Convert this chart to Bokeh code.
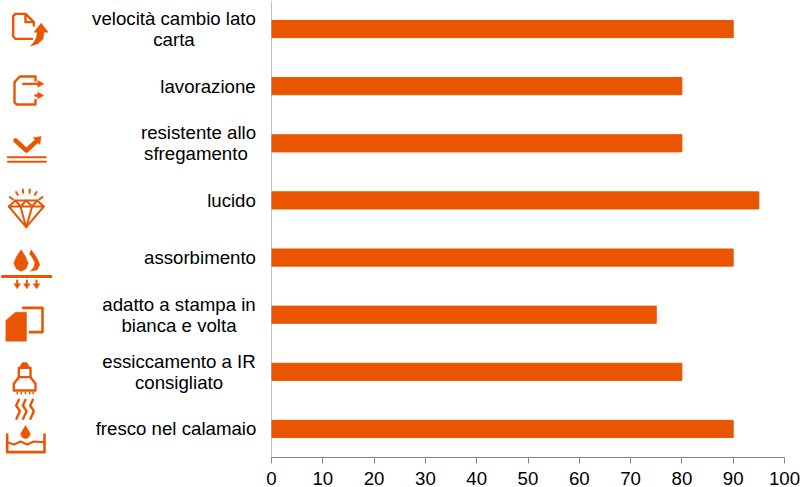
from bokeh.plotting import figure
from bokeh.layouts import row
from bokeh.models import Range1d, FactorRange, FixedTicker, Span
from bokeh.core.properties import value
from bokeh.embed import file_html
from bokeh.resources import INLINE

categories = ["velocità cambio lato\ncarta", "lavorazione", "resistente allo\nsfregamento ",
              "lucido", "assorbimento", "adatto a stampa in\nbianca e volta",
              "essiccamento a IR\nconsigliato", "fresco nel calamaio"]
values = [90, 80, 80, 95, 90, 75, 80, 90]
x_ticks = [0, 10, 20, 30, 40, 50, 60, 70, 80, 90, 100]

ORANGE = "#E95500"
GREY = "#868686"
FONT = "Liberation Sans"
# horizontal centre of each category's text block, in pixels from the left edge
label_centre = [173.5, 207.5, 198, 231, 199.5, 178.5, 178.5, 175.5]

p = figure(y_range=FactorRange(factors=categories[::-1], range_padding=0, factor_padding=0, group_padding=0, subgroup_padding=0),
           x_range=Range1d(0, 100), output_backend="svg", toolbar_location=None,
           frame_width=513, frame_height=457, min_border_left=11, min_border_right=16,
           min_border_top=0, min_border_bottom=30, outline_line_color=None,
           background_fill_color=None, border_fill_color=None)
p.hbar(y=categories, right=values, left=0, height=0.3, color=ORANGE)
p.grid.visible = False
p.xaxis.ticker = FixedTicker(ticks=x_ticks)
p.xaxis.minor_tick_line_color = None
p.xaxis.major_tick_in = 0
p.xaxis.major_tick_out = 6
p.xaxis.axis_line_color = GREY
p.xaxis.major_tick_line_color = GREY
p.xaxis.major_label_text_font = FONT
p.xaxis.major_label_text_font_size = "18.67px"
p.xaxis.major_label_text_color = "#000000"
p.xaxis.major_label_standoff = 8
p.yaxis.visible = False
p.add_layout(Span(location=0, dimension="height", line_color=GREY, line_width=1))

# left panel: category texts and the icons; y runs in category rows, top to bottom
n = len(categories)
ic = figure(x_range=Range1d(0, 260), y_range=Range1d(n, 0), output_backend="svg", toolbar_location=None,
            frame_width=260, frame_height=457, min_border_left=0, min_border_right=0,
            min_border_top=0, min_border_bottom=30,
            outline_line_color=None, background_fill_color=None, border_fill_color=None)
ic.axis.visible = False
ic.grid.visible = False

xs, ys, texts, dys = [], [], [], []
for k, (c, cx) in enumerate(zip(categories, label_centre)):
    parts = c.split("\n")
    for i, t in enumerate(parts):
        xs.append(cx)
        ys.append(k + 0.5)
        texts.append(t)
        dys.append(0 if len(parts) == 1 else (-10.5 if i == 0 else 10.5))
ic.text(x=xs, y=ys, text=texts, y_offset=dys, text_align="center", text_baseline="middle",
        text_font=value(FONT), text_font_size="18.67px", text_color="#000000")

def row_y(v):
    return v * n / 457

def line(pts, w=2.4, off=0):
    ic.line([a / 3 for a, b in pts], [row_y(b / 3 + off) for a, b in pts], line_color=ORANGE,
            line_width=w, line_join="round", line_cap="round")

def fill(pts, off=0):
    ic.patch([a / 3 for a, b in pts], [row_y(b / 3 + off) for a, b in pts], fill_color=ORANGE,
             line_color=ORANGE, line_width=0.5)

# 1
line([(100, 75), (100, 65), (75, 40), (45, 40), (38, 47), (38, 108), (45, 115), (95, 115)])
line([(75, 40), (75, 65), (100, 65)])
fill([(122, 68), (143, 95), (130, 95), (128, 115), (112, 130), (90, 137), (100, 125), (108, 110), (110, 95), (100, 95)])
# 2
line([(105, 240), (105, 228), (58, 228), (42, 245), (42, 305), (48, 312), (105, 312), (105, 298)])
line([(68, 250), (118, 250)])
line([(105, 285), (118, 285)])
fill([(112, 240), (130, 250), (112, 260)])
fill([(112, 275), (130, 285), (112, 295)])
# 3
line([(45, 420), (78, 450), (112, 418)], w=4.5)
fill([(98, 412), (122, 408), (118, 432)])
line([(22, 470), (136, 470)], w=2)
line([(22, 484), (136, 484)], w=2)
# 4
for pts in [[(45, 600), (110, 600), (130, 618), (77, 680), (25, 618), (45, 600)],
            [(25, 618), (130, 618)],
            [(45, 600), (60, 618), (77, 680), (95, 618), (110, 600)],
            [(60, 618), (77, 600), (95, 618)],
            [(28, 590), (38, 597)], [(47, 575), (52, 583)], [(67, 567), (68, 577)],
            [(88, 567), (87, 577)], [(108, 575), (103, 583)], [(126, 590), (116, 597)]]:
    line(pts, w=2)
# 5
fill([(62, 28), (75, 48), (83, 68), (77, 85), (62, 92), (47, 85), (40, 68), (48, 48)], off=240)
fill([(92, 28), (108, 50), (118, 72), (110, 88), (90, 92), (100, 80), (103, 65), (95, 50), (87, 40)], off=240)
line([(6, 108), (151, 108)], w=3, off=240)
for x in (50, 79, 108):
    line([(x, 120), (x, 132)], w=2, off=240)
    fill([(x - 10, 130), (x + 10, 130), (x, 145)], off=240)
# 6
fill([(16, 240), (45, 215), (78, 215), (78, 302), (16, 302)], off=240)
line([(68, 202), (126, 202), (126, 275), (88, 275)], w=2.6, off=240)
# 7
fill([(66, 366), (78, 366), (85, 375), (85, 382), (60, 382), (60, 375)], off=240)
line([(55, 382), (90, 382), (90, 410), (55, 410), (55, 382)], off=240)
line([(55, 410), (40, 430), (40, 450), (105, 450), (105, 430), (90, 410)], off=240)
for x in (50, 62, 75, 88, 98):
    line([(x, 456), (x, 460)], w=1.5, off=240)
for x in (55, 75, 97):
    line([(x, 478), (x - 8, 495), (x + 3, 512), (x - 7, 535)], off=240)
# 8
fill([(75, 555), (90, 580), (85, 590), (75, 595), (65, 590), (60, 580)], off=240)
line([(20, 582), (20, 635), (132, 635), (132, 582)], w=2.6, off=240)
line([(20, 605), (40, 612), (60, 603), (80, 612), (100, 603), (132, 605)], w=2, off=240)

layout = row(ic, p, spacing=0, margin=0)
open("out.html", "w").write(file_html(layout, INLINE))
